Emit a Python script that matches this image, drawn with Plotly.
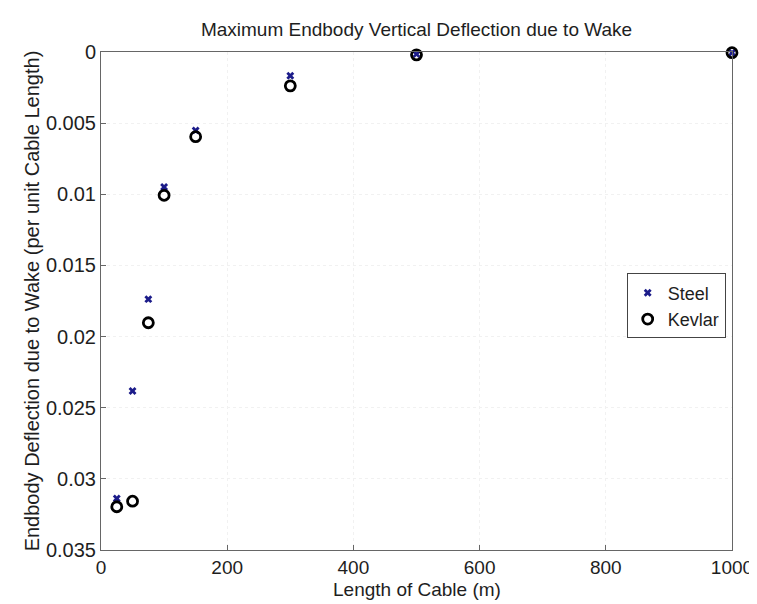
import plotly.graph_objects as go

cable_length = [25, 50, 75, 100, 150, 300, 500, 1000]
steel = [0.03138, 0.02382, 0.01737, 0.00949, 0.00551, 0.00167, 0.00015, 0.00005]
kevlar = [0.03196, 0.03157, 0.01903, 0.01007, 0.00595, 0.00238, 0.00020, 0.00005]
x_ticks = [0, 200, 400, 600, 800, 1000]
y_ticks = [0, 0.005, 0.01, 0.015, 0.02, 0.025, 0.03, 0.035]
y_tick_text = ["0", "0.005", "0.01", "0.015", "0.02", "0.025", "0.03", "0.035"]

FONT = "Liberation Sans, Arial, Helvetica, sans-serif"
TXT = "#1e1e1e"
PLOT_TOP, PLOT_BOTTOM = 44, 542

fig = go.Figure()
fig.add_trace(go.Scatter(
    x=cable_length, y=steel, mode="markers", name="Steel",
    marker=dict(symbol="x", size=7, color="#1c1c8a",
                line=dict(width=0)),
    cliponaxis=False,
))
fig.add_trace(go.Scatter(
    x=cable_length, y=kevlar, mode="markers", name="Kevlar",
    marker=dict(symbol="circle-open", size=10, color="black",
                line=dict(width=2.8, color="black")),
    cliponaxis=False,
))

axis_common = dict(
    showline=True, linecolor="#666666", linewidth=1, mirror=True,
    ticks="inside", ticklen=5, tickcolor="#666666",
    showgrid=True, gridcolor="#f1f1f1", griddash="dot", gridwidth=1,
    zeroline=False,
)

plot_h = PLOT_BOTTOM - PLOT_TOP

fig.update_layout(
    width=757, height=604,
    paper_bgcolor="white", plot_bgcolor="white",
    margin=dict(l=93, r=24, t=PLOT_TOP, b=604 - PLOT_BOTTOM),
    title=dict(text="Maximum Endbody Vertical Deflection due to Wake",
               x=0.5, xref="paper", xanchor="center",
               y=1 - 21 / 604, yref="container", yanchor="middle",
               font=dict(family=FONT, size=19, color=TXT)),
    xaxis=dict(range=[0, 1000], tickvals=x_ticks,
               tickfont=dict(family=FONT, size=19, color=TXT),
               **axis_common),
    yaxis=dict(range=[0.035, 0], tickvals=y_ticks, ticktext=y_tick_text,
               tickfont=dict(family=FONT, size=20, color=TXT),
               title=dict(text="Endbody Deflection due to Wake (per unit Cable Length)",
                          standoff=0,
                          font=dict(family=FONT, size=20, color=TXT)),
               **axis_common),
    legend=dict(x=0.99, y=0.49, xanchor="right", yanchor="middle",
                bgcolor="white", bordercolor="#444444", borderwidth=1,
                font=dict(family=FONT, size=18, color=TXT),
                tracegroupgap=0),
    showlegend=True,
    annotations=[dict(
        text="Length of Cable (m)", xref="paper", yref="paper",
        x=0.5, y=-(581 - PLOT_BOTTOM) / plot_h, xanchor="center", yanchor="middle",
        showarrow=False, font=dict(family=FONT, size=19, color=TXT),
    )],
)

fig.write_html("out.html")
